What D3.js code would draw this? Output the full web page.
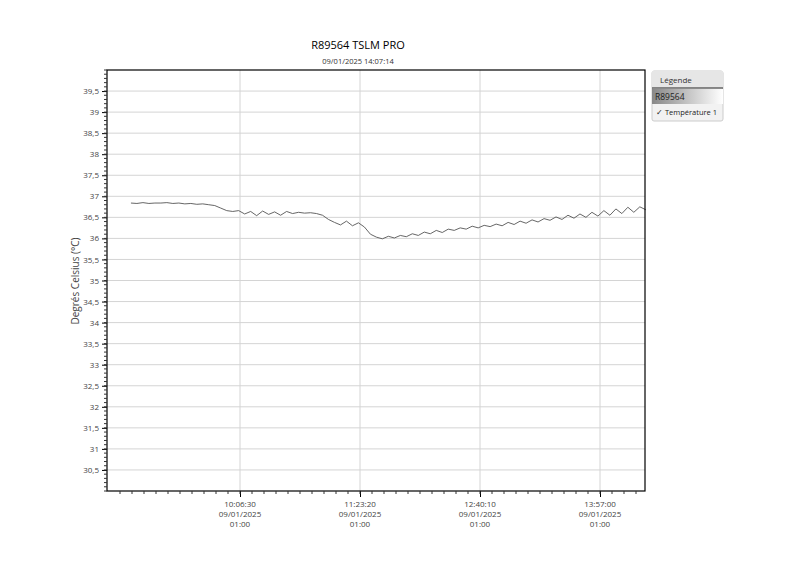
<!DOCTYPE html>
<html><head><meta charset="utf-8">
<script src="https://cdn.jsdelivr.net/npm/d3@7"></script>
<style>body{margin:0;background:#fff;font-family:"Open Sans",sans-serif}</style>
</head><body><svg id="c" width="800" height="565"></svg>
<script>
const startTime = new Date(2025, 0, 9, 8, 56, 40);
const stepSeconds = 230;
const temps = [36.84,36.83,36.85,36.83,36.84,36.84,36.85,36.83,36.84,36.82,36.83,36.81,36.82,36.80,36.78,
  36.72,36.66,36.64,
  36.66,36.58,36.64,36.54,36.65,36.57,36.63,36.55,36.64,36.59,36.62,36.60,36.61,36.59,
  36.55,36.45,36.38,36.32,36.41,36.30,36.37,36.27,
  36.10,36.03,35.99,36.05,36.01,
  36.07,36.04,36.11,36.07,36.15,36.11,36.19,36.14,36.22,36.19,36.25,36.22,36.29,36.25,36.31,36.28,36.34,36.30,36.38,36.33,36.41,36.36,36.44,36.39,36.47,36.43,36.51,36.45,36.55,36.48,36.58,36.50,36.62,36.53,36.66,36.55,36.70,36.59,36.74,36.62,36.75,36.68];
const xTickTimes = ["10:06:30","11:23:20","12:40:10","13:57:00"];
const xTickDate = "09/01/2025";
const xTickZone = "01:00";
const yTicks = [30.5,31,31.5,32,32.5,33,33.5,34,34.5,35,35.5,36,36.5,37,37.5,38,38.5,39,39.5];

const data = temps.map((v,i)=>({t:new Date(+startTime + i*stepSeconds*1000), v}));
const L=107,R=645,T=70,B=491;
const svg=d3.select("#c");
const parse=s=>{const [h,m,ss]=s.split(":").map(Number);return new Date(2025,0,9,h,m,ss);};
const t0=parse(xTickTimes[0]), t1=parse(xTickTimes[1]);
const pxPerMs=(360-240)/(t1-t0);
const x=d3.scaleTime().domain([new Date(+t0-(240-L)/pxPerMs), new Date(+t0+(R-240)/pxPerMs)]).range([L,R]);
const y=d3.scaleLinear().domain([30,40]).range([B,T]);

const g=svg.append("g");
g.selectAll(".hg").data(yTicks).join("line").attr("x1",L).attr("x2",R)
 .attr("y1",d=>y(d)).attr("y2",d=>y(d)).attr("stroke","#d4d4d4");
g.selectAll(".vg").data(xTickTimes).join("line").attr("y1",T).attr("y2",B)
 .attr("x1",d=>x(parse(d))).attr("x2",d=>x(parse(d))).attr("stroke","#d4d4d4");

g.append("path").datum(data).attr("fill","none").attr("stroke","#555").attr("stroke-width",0.9)
 .attr("d",d3.line().x(d=>x(d.t)).y(d=>y(d.v)));

g.append("rect").attr("x",L).attr("y",T).attr("width",R-L).attr("height",B-T)
 .attr("fill","none").attr("stroke","#000").attr("stroke-width",1.2);

// y axis
const ya=svg.append("g").attr("transform",`translate(${L},0)`)
 .call(d3.axisLeft(y).tickValues(yTicks).tickSize(5).tickFormat(d=>String(d).replace(".",",")));
ya.select(".domain").remove();
ya.selectAll("text").attr("font-size",8).attr("fill","#444").attr("font-family","Open Sans");
svg.append("g").selectAll("line").data(d3.range(30,40.01,0.1)).join("line")
 .attr("x1",L-3).attr("x2",L).attr("y1",d=>y(d)).attr("y2",d=>y(d)).attr("stroke","#333");
svg.append("text").attr("transform","translate(79,281) rotate(-90)").attr("text-anchor","middle")
 .attr("font-size",10).attr("fill","#444").text("Degrés Celsius (°C)");

// x axis
const xa=svg.append("g").attr("transform",`translate(0,${B})`)
 .call(d3.axisBottom(x).tickValues(xTickTimes.map(parse)).tickSize(6).tickFormat(""));
xa.select(".domain").remove();
const minor=d3.range(-10,34).map(i=>new Date(+t0+i*(t1-t0)/10)).filter(d=>x(d)>=L-15&&x(d)<=R);
svg.append("g").selectAll("line").data(minor).join("line")
 .attr("x1",d=>x(d)).attr("x2",d=>x(d)).attr("y1",B).attr("y2",B+3).attr("stroke","#333");
const lab=svg.append("g").selectAll("text").data(xTickTimes).join("text")
 .attr("x",d=>x(parse(d))).attr("y",B+16).attr("text-anchor","middle").attr("font-size",8).attr("fill","#444");
lab.append("tspan").text(d=>d);
lab.append("tspan").attr("x",d=>x(parse(d))).attr("dy",10).text(xTickDate);
lab.append("tspan").attr("x",d=>x(parse(d))).attr("dy",10).text(xTickZone);

// titles
svg.append("text").attr("x",358).attr("y",49).attr("text-anchor","middle").attr("font-size",11).text("R89564 TSLM PRO");
svg.append("text").attr("x",358).attr("y",64).attr("text-anchor","middle").attr("font-size",7.5).attr("fill","#333").text("09/01/2025 14:07:14");

// legend
const lg=svg.append("g").attr("transform","translate(652,71)");
const grad=svg.append("defs").append("linearGradient").attr("id","lgg");
grad.append("stop").attr("offset","0").attr("stop-color","#888");
grad.append("stop").attr("offset","1").attr("stop-color","#fff");
lg.append("rect").attr("width",71).attr("height",50).attr("fill","#f2f2f2").attr("stroke","#ccc").attr("rx",2);
lg.append("rect").attr("width",71).attr("height",17).attr("fill","#e6e6e6");
lg.append("line").attr("x1",0).attr("x2",71).attr("y1",17).attr("y2",17).attr("stroke","#222");
lg.append("text").attr("x",8).attr("y",12).attr("font-size",8).attr("fill","#333").text("Légende");
lg.append("rect").attr("y",18).attr("width",71).attr("height",15).attr("fill","url(#lgg)");
lg.append("text").attr("x",3).attr("y",29).attr("font-size",8.5).attr("fill","#222").text("R89564");
lg.append("text").attr("x",4).attr("y",44).attr("font-size",7.5).attr("fill","#222").text("✓ Température 1");
</script></body></html>
